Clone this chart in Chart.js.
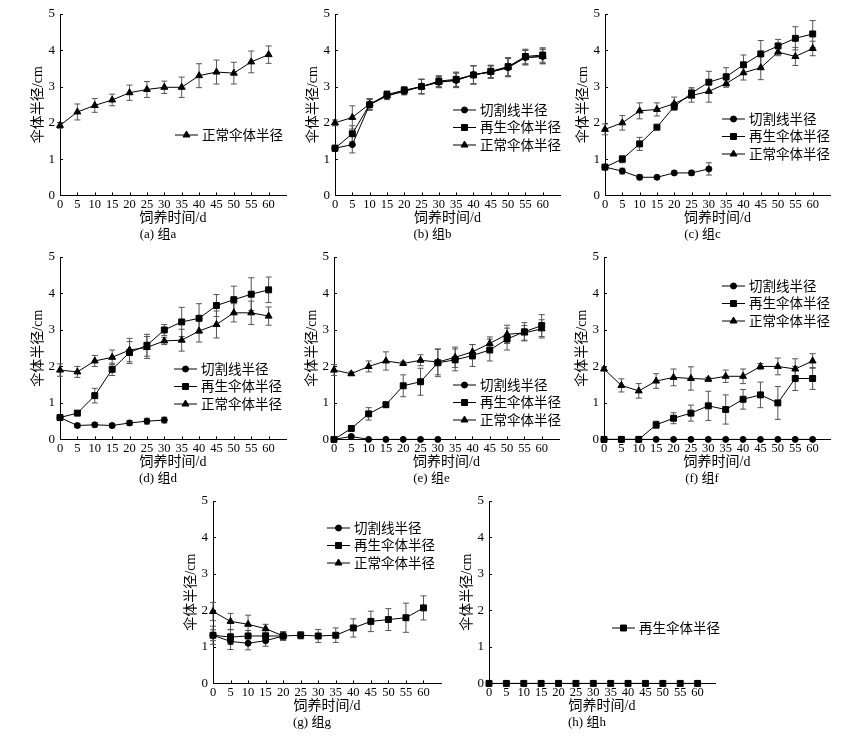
<!DOCTYPE html>
<html>
<head>
<meta charset="utf-8">
<script src="https://cdn.jsdelivr.net/npm/chart.js@4.4.1/dist/chart.umd.min.js"></script>
<style>
body { margin: 0; background: #fff; }
#wrap { position: relative; width: 863px; height: 746px; overflow: hidden; background: #fff; }
canvas { position: absolute; }
</style>
</head>
<body>
<div id="wrap"></div>
<script>
// feeding days, shared by every panel
const days = [0, 5, 10, 15, 20, 25, 30, 35, 40, 45, 50, 55, 60];
const seriesNames = ['切割线半径', '再生伞体半径', '正常伞体半径'];
const xTitle = '饲养时间/d';
const yTitle = '伞体半径/cm';

// group a
const aNormal    = [1.93, 2.30, 2.48, 2.63, 2.83, 2.92, 2.98, 2.98, 3.30, 3.40, 3.37, 3.68, 3.88];
const aNormalErr = [0.08, 0.22, 0.19, 0.16, 0.21, 0.22, 0.17, 0.28, 0.33, 0.33, 0.30, 0.30, 0.24];

// group b
const bCut       = [1.30, 1.40, 2.50, 2.74, 2.87, 3.00, 3.12, 3.17, 3.32, 3.40, 3.52, 3.80, 3.83];
const bCutErr    = [0.08, 0.23, 0.15, 0.10, 0.10, 0.20, 0.15, 0.20, 0.25, 0.17, 0.25, 0.20, 0.20];
const bRegen     = [1.30, 1.70, 2.50, 2.78, 2.90, 3.00, 3.15, 3.20, 3.32, 3.42, 3.55, 3.83, 3.87];
const bRegenErr  = [0.08, 0.22, 0.15, 0.10, 0.10, 0.20, 0.15, 0.20, 0.25, 0.17, 0.25, 0.20, 0.20];
const bNormal    = [2.00, 2.15, 2.52, 2.75, 2.88, 3.00, 3.12, 3.18, 3.33, 3.40, 3.53, 3.80, 3.83];
const bNormalErr = [0.08, 0.32, 0.15, 0.10, 0.10, 0.20, 0.15, 0.20, 0.25, 0.17, 0.25, 0.20, 0.20];

// group c
const cCut       = [0.78, 0.67, 0.50, 0.50, 0.62, 0.62, 0.73];
const cCutErr    = [0.05, 0.08, 0.07, 0.05, 0.05, 0.07, 0.17];
const cRegen     = [0.78, 1.00, 1.42, 1.88, 2.45, 2.82, 3.12, 3.27, 3.60, 3.90, 4.12, 4.33, 4.45];
const cRegenErr  = [0.05, 0.10, 0.18, 0.05, 0.10, 0.15, 0.30, 0.25, 0.27, 0.37, 0.18, 0.32, 0.37];
const cNormal    = [1.82, 2.00, 2.33, 2.37, 2.53, 2.75, 2.87, 3.08, 3.38, 3.52, 3.95, 3.83, 4.05];
const cNormalErr = [0.15, 0.20, 0.22, 0.18, 0.18, 0.18, 0.30, 0.10, 0.20, 0.33, 0.10, 0.25, 0.20];

// group d
const dCut       = [0.60, 0.38, 0.40, 0.38, 0.45, 0.50, 0.53];
const dCutErr    = [0.03, 0.05, 0.06, 0.06, 0.07, 0.08, 0.08];
const dRegen     = [0.60, 0.72, 1.20, 1.92, 2.38, 2.58, 3.00, 3.22, 3.32, 3.67, 3.83, 3.98, 4.10];
const dRegenErr  = [0.03, 0.05, 0.20, 0.17, 0.30, 0.30, 0.15, 0.40, 0.40, 0.30, 0.37, 0.45, 0.35];
const dNormal    = [1.90, 1.85, 2.15, 2.25, 2.45, 2.52, 2.70, 2.72, 2.97, 3.15, 3.47, 3.47, 3.38];
const dNormalErr = [0.17, 0.15, 0.15, 0.20, 0.32, 0.30, 0.10, 0.30, 0.30, 0.37, 0.25, 0.32, 0.25];

// group e
const eCut       = [0, 0.08, 0, 0, 0, 0, 0];
const eCutErr    = [0, 0.05, 0, 0, 0, 0, 0];
const eRegen     = [0, 0.30, 0.70, 0.95, 1.47, 1.58, 2.10, 2.18, 2.30, 2.45, 2.75, 2.95, 3.12];
const eRegenErr  = [0, 0.07, 0.17, 0.07, 0.30, 0.37, 0.38, 0.30, 0.30, 0.30, 0.30, 0.25, 0.30];
const eNormal    = [1.90, 1.80, 2.00, 2.15, 2.08, 2.17, 2.12, 2.25, 2.40, 2.63, 2.88, 2.92, 3.03];
const eNormalErr = [0.15, 0.05, 0.15, 0.25, 0.05, 0.15, 0.35, 0.28, 0.20, 0.18, 0.25, 0.20, 0.25];

// group f
const fCut       = [0, 0, 0, 0, 0, 0, 0, 0, 0, 0, 0, 0, 0];
const fRegen     = [0, 0, 0, 0.40, 0.58, 0.72, 0.92, 0.82, 1.10, 1.22, 1.00, 1.67, 1.67];
const fRegenErr  = [0, 0, 0, 0.10, 0.15, 0.22, 0.40, 0.40, 0.27, 0.35, 0.45, 0.33, 0.30];
const fNormal    = [1.93, 1.48, 1.33, 1.60, 1.70, 1.67, 1.65, 1.73, 1.73, 2.00, 2.00, 1.93, 2.15];
const fNormalErr = [0.05, 0.18, 0.20, 0.20, 0.23, 0.32, 0.05, 0.17, 0.20, 0.08, 0.23, 0.28, 0.20];

// group g
const gCut       = [1.32, 1.15, 1.10, 1.17, 1.30];
const gCutErr    = [0.25, 0.22, 0.18, 0.15, 0.10];
const gRegen     = [1.32, 1.27, 1.30, 1.30, 1.30, 1.32, 1.30, 1.32, 1.52, 1.70, 1.75, 1.80, 2.07];
const gRegenErr  = [0.15, 0.20, 0.15, 0.10, 0.12, 0.10, 0.18, 0.20, 0.25, 0.28, 0.30, 0.40, 0.33];
const gNormal    = [1.97, 1.70, 1.62, 1.50, 1.30];
const gNormalErr = [0.25, 0.22, 0.25, 0.12, 0.12];

// group h
const hRegen     = [0, 0, 0, 0, 0, 0, 0, 0, 0, 0, 0, 0, 0];

const panels = [
  { caption: '(a) 组a', series: [null, null, [aNormal, aNormalErr]] },
  { caption: '(b) 组b', series: [[bCut, bCutErr], [bRegen, bRegenErr], [bNormal, bNormalErr]] },
  { caption: '(c) 组c', series: [[cCut, cCutErr], [cRegen, cRegenErr], [cNormal, cNormalErr]] },
  { caption: '(d) 组d', series: [[dCut, dCutErr], [dRegen, dRegenErr], [dNormal, dNormalErr]] },
  { caption: '(e) 组e', series: [[eCut, eCutErr], [eRegen, eRegenErr], [eNormal, eNormalErr]] },
  { caption: '(f) 组f', series: [[fCut, null], [fRegen, fRegenErr], [fNormal, fNormalErr]] },
  { caption: '(g) 组g', series: [[gCut, gCutErr], [gRegen, gRegenErr], [gNormal, gNormalErr]] },
  { caption: '(h) 组h', series: [null, [hRegen, null], null] }
];

// where each plot sits on the page (axis x, top, bottom, pixel of day 60, legend offset)
const boxes = [
  { ax: 60,  top: 14,  bottom: 195, x60: 269, leg: [115, 121] },
  { ax: 335, top: 14,  bottom: 195, x60: 543, leg: [118, 96] },
  { ax: 605, top: 14,  bottom: 195, x60: 813, leg: [117, 105] },
  { ax: 60,  top: 257, bottom: 439, x60: 269, leg: [114, 112] },
  { ax: 334, top: 257, bottom: 439, x60: 542, leg: [119, 128] },
  { ax: 604, top: 257, bottom: 439, x60: 813, leg: [118, 29] },
  { ax: 213, top: 501, bottom: 683, x60: 423, leg: [114, 27] },
  { ax: 489, top: 501, bottom: 683, x60: 698, leg: [123, 127] }
];

const family = "'Liberation Serif', 'Noto Sans CJK SC', serif";
const markers = [
  { style: 'circle', r: 3 },
  { style: 'rect', r: 4.2 },
  { style: 'triangle', r: 4 }
];
Chart.defaults.font.family = family;
Chart.defaults.color = '#000';

const errorBars = {
  id: 'errorBars',
  beforeDatasetsDraw(chart) {
    const ctx = chart.ctx;
    const ys = chart.scales.y;
    chart.data.datasets.forEach((ds, i) => {
      if (!ds.errors) return;
      const meta = chart.getDatasetMeta(i);
      meta.data.forEach((pt, j) => {
        const v = ds.data[j].y;
        const e = ds.errors[j];
        if (v == null || !e) return;
        const t = ys.getPixelForValue(v + e);
        const b = ys.getPixelForValue(v - e);
        ctx.save();
        ctx.strokeStyle = '#555';
        ctx.lineWidth = 1;
        ctx.beginPath();
        ctx.moveTo(pt.x, t); ctx.lineTo(pt.x, b);
        ctx.moveTo(pt.x - 3, t); ctx.lineTo(pt.x + 3, t);
        ctx.moveTo(pt.x - 3, b); ctx.lineTo(pt.x + 3, b);
        ctx.stroke();
        ctx.restore();
      });
    });
  }
};

// small tick marks pointing into the plot
const innerTicks = {
  id: 'innerTicks',
  beforeDatasetsDraw(chart) {
    const ctx = chart.ctx;
    const a = chart.chartArea;
    const xs = chart.scales.x, ys = chart.scales.y;
    ctx.save();
    ctx.strokeStyle = '#000';
    ctx.lineWidth = 1;
    ctx.beginPath();
    xs.ticks.forEach(t => {
      const px = Math.round(xs.getPixelForValue(t.value)) + 0.5;
      ctx.moveTo(px, a.bottom);
      ctx.lineTo(px, a.bottom - 3);
    });
    ys.ticks.forEach(t => {
      const py = Math.round(ys.getPixelForValue(t.value)) + 0.5;
      ctx.moveTo(a.left, py);
      ctx.lineTo(a.left + 3, py);
    });
    ctx.stroke();
    ctx.restore();
  }
};

const inLegend = {
  id: 'inLegend',
  afterDraw(chart, args, opts) {
    const ctx = chart.ctx;
    const a = chart.chartArea;
    chart.data.datasets.forEach((ds, i) => {
      const x0 = a.left + opts.dx;
      const y = a.top + opts.dy + i * 17.5;
      ctx.save();
      ctx.strokeStyle = '#000';
      ctx.fillStyle = '#000';
      ctx.lineWidth = 1;
      ctx.beginPath();
      ctx.moveTo(x0, y);
      ctx.lineTo(x0 + 23, y);
      ctx.stroke();
      Chart.helpers.drawPoint(ctx, { pointStyle: ds.pointStyle, radius: ds.pointRadius, borderWidth: 1, rotation: 0 }, x0 + 11.5, y);
      ctx.font = '13.5px ' + family;
      ctx.textBaseline = 'middle';
      ctx.fillText(ds.label, x0 + 27, y + 1);
      ctx.restore();
    });
  }
};

const wrap = document.getElementById('wrap');

panels.forEach((p, k) => {
  const bx = boxes[k];
  const right = bx.ax + (bx.x60 - bx.ax) * 65 / 60;
  const left = bx.ax - 34;
  const top = bx.top - 13;
  const cv = document.createElement('canvas');
  cv.width = Math.round(right + 12 - left);
  cv.height = Math.round(bx.bottom - top + 49);
  cv.style.left = left + 'px';
  cv.style.top = top + 'px';
  wrap.appendChild(cv);

  const datasets = [];
  p.series.forEach((s, i) => {
    if (!s) return;
    const vals = s[0];
    datasets.push({
      label: seriesNames[i],
      data: days.map((d, j) => ({ x: d, y: vals[j] === undefined ? null : vals[j] })),
      errors: s[1],
      borderColor: '#000',
      backgroundColor: '#000',
      borderWidth: 1,
      pointStyle: markers[i].style,
      pointRadius: markers[i].r,
      pointBackgroundColor: '#000',
      pointBorderColor: '#000',
      pointBorderWidth: 1,
      tension: 0,
      clip: false
    });
  });

  new Chart(cv, {
    type: 'line',
    data: { datasets: datasets },
    plugins: [innerTicks, errorBars, inLegend],
    options: {
      responsive: false,
      animation: false,
      layout: { padding: { left: 4, top: 13, right: 12, bottom: 0 } },
      plugins: {
        legend: { display: false },
        tooltip: { enabled: false },
        title: {
          display: true,
          position: 'bottom',
          text: p.caption,
          color: '#000',
          font: { size: 13, weight: 'normal' },
          padding: { top: 0, bottom: 2 }
        },
        inLegend: { dx: bx.leg[0], dy: bx.leg[1] }
      },
      scales: {
        x: {
          type: 'linear',
          min: 0,
          max: 65,
          afterBuildTicks(s) { s.ticks = s.ticks.filter(t => t.value <= 60); },
          afterFit(s) { s.height = 31; },
          ticks: { stepSize: 5, padding: 3, maxRotation: 0, font: { size: 12.5, lineHeight: 1 }, color: '#000' },
          grid: { drawOnChartArea: false, drawTicks: false },
          border: { color: '#000', width: 1 },
          title: { display: true, text: xTitle, font: { size: 14 }, padding: 0, color: '#000' }
        },
        y: {
          min: 0,
          max: 5,
          afterFit(s) { s.width = 30; },
          ticks: { stepSize: 1, padding: 5, font: { size: 13 }, color: '#000' },
          grid: { drawOnChartArea: false, drawTicks: false },
          border: { color: '#000', width: 1 },
          title: { display: true, text: yTitle, font: { size: 14 }, padding: 0, color: '#000' }
        }
      }
    }
  });
});
</script>
</body>
</html>
